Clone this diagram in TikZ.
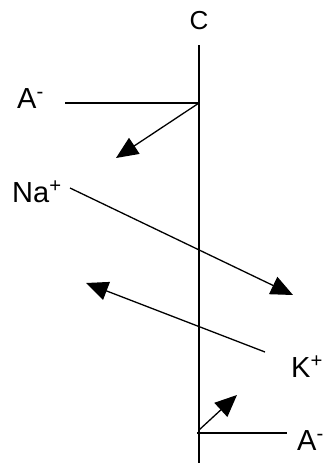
\documentclass[tikz,border=0pt]{standalone}
\usepackage{fontspec}
\setmainfont{Liberation Sans}
\usetikzlibrary{arrows.meta}
\begin{document}
\begin{tikzpicture}[x=1pt,y=-1pt,
  lbl/.style={inner sep=0pt, anchor=base west, font=\fontsize{29}{32}\selectfont},
  memb/.style={line width=2pt},
  flow/.style={line width=1.3pt, -{Triangle[length=22pt,width=19pt]}}]
\useasboundingbox[fill=white] (0,0) rectangle (323,467);
% labels
\node[inner sep=0pt, anchor=base, font=\fontsize{26}{30}\selectfont] (c) at (199,29) {C};
\node[lbl] (atop) at (17,108) {A\textsuperscript{-}};
\node[lbl] (na) at (12,202) {Na\textsuperscript{+}};
\node[lbl] (k) at (291,377) {K\textsuperscript{+}};
\node[lbl] (abot) at (297,450) {A\textsuperscript{-}};
% coordinates
\coordinate (mt) at (199,45);
\coordinate (mb) at (199,463);
\coordinate (at) at (65,103);
\coordinate (aj) at (199,103);
\coordinate (atip) at (116,158);
\coordinate (nas) at (70,188);
\coordinate (natip) at (293,295);
\coordinate (ks) at (265,352);
\coordinate (ktip) at (86,283);
\coordinate (bj) at (197,433);
\coordinate (be) at (287,433);
\coordinate (bs) at (199,430);
\coordinate (btip) at (237,395);
% membrane and lines
\draw[memb] (mt) -- (mb);
\draw[memb] (at) -- (aj);
\draw[memb] (bj) -- (be);
% flows
\draw[flow] (aj) -- (atip);
\draw[flow] (nas) -- (natip);
\draw[flow] (ks) -- (ktip);
\draw[flow] (bs) -- (btip);
\end{tikzpicture}
\end{document}
